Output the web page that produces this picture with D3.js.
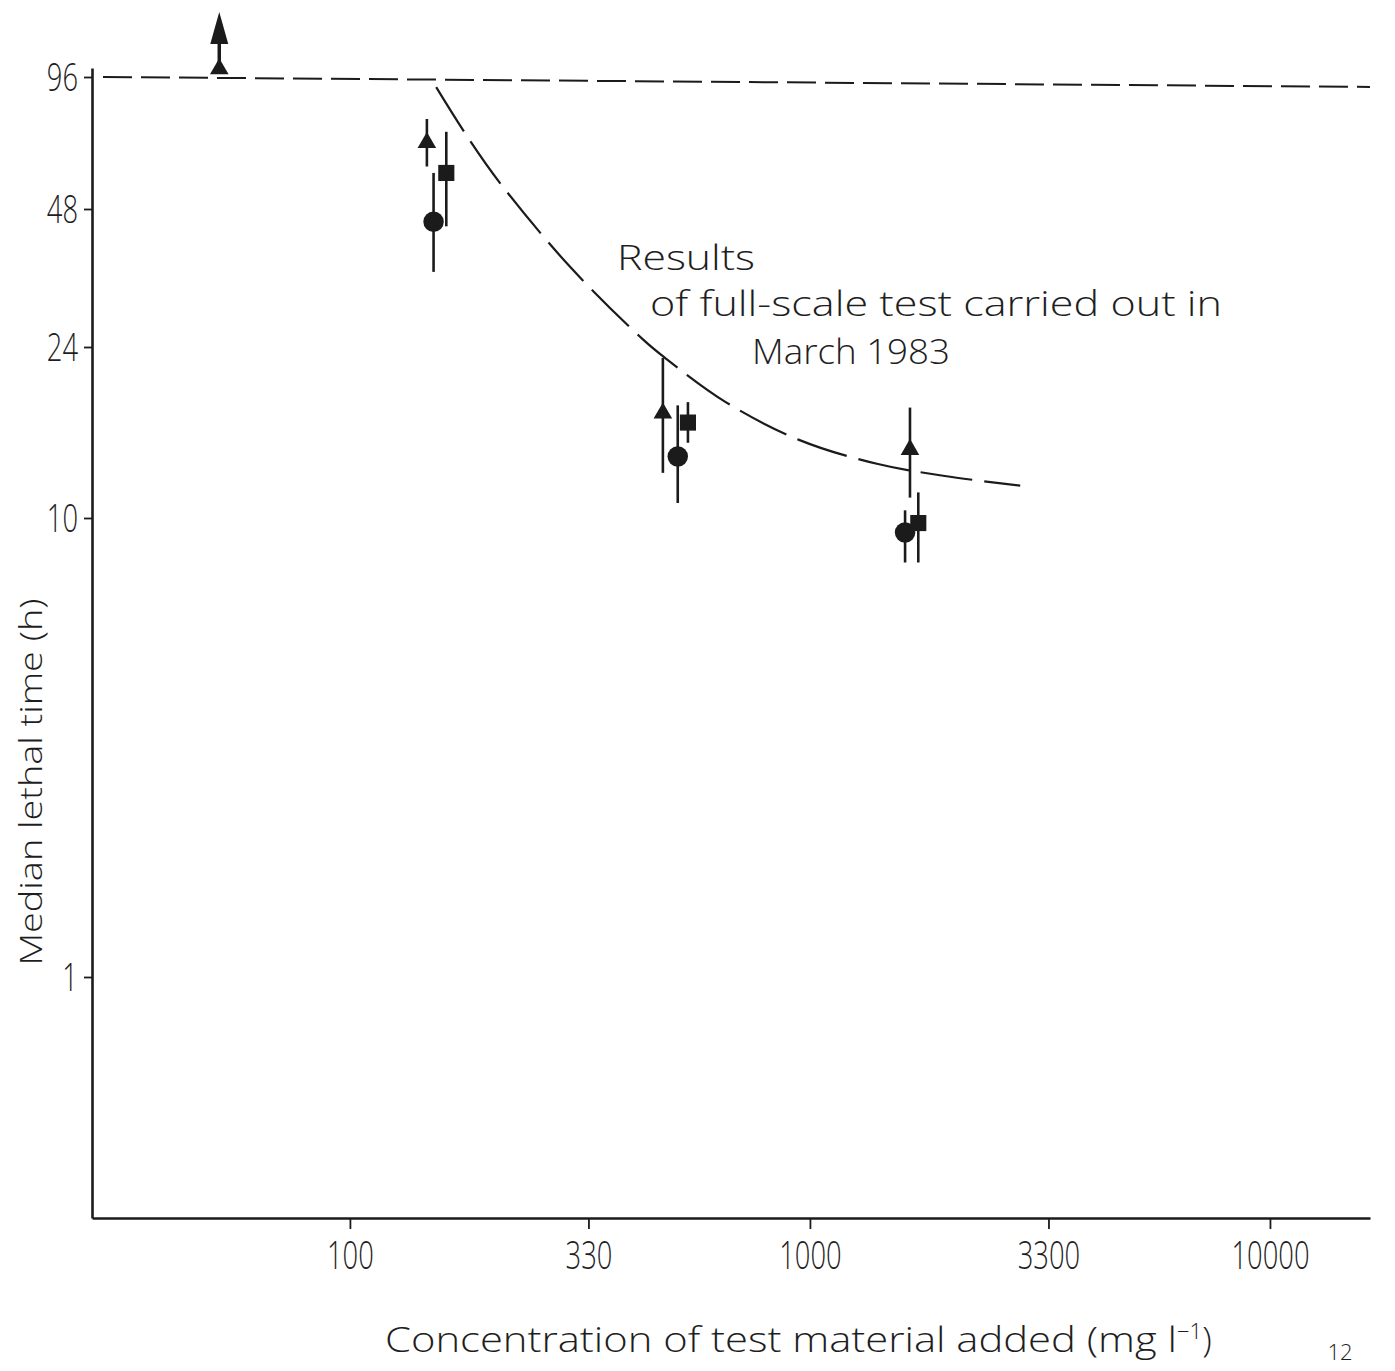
<!DOCTYPE html>
<html>
<head>
<meta charset="utf-8">
<script src="https://cdnjs.cloudflare.com/ajax/libs/d3/7.8.5/d3.min.js"></script>
<style>
body { margin: 0; background: #fff; }
svg { display: block; }
text { font-family: "Open Sans", "DejaVu Sans", sans-serif; font-weight: 300; fill: #1e1e1e; }
</style>
</head>
<body>
<svg width="1395" height="1371"></svg>
<script>
// tick labels
var xTicks = [100, 330, 1000, 3300, 10000];
var yTicks = [1, 10, 24, 48, 96];

// median lethal time (h) with range, by concentration (mg/l)
var triangleSeries = [
    {conc: 147, time: 68, low: 60, high: 77},
    {conc: 479, time: 17.1, low: 12.6, high: 22.7},
    {conc: 1650, time: 14.2, low: 11.1, high: 17.6}
];
var squareSeries = [
    {conc: 162, time: 58, low: 44, high: 72},
    {conc: 543, time: 16.3, low: 14.7, high: 18.1},
    {conc: 1720, time: 9.75, low: 8.0, high: 11.4}
];
var circleSeries = [
    {conc: 152, time: 45, low: 35, high: 58},
    {conc: 516, time: 13.7, low: 10.8, high: 17.8},
    {conc: 1610, time: 9.3, low: 8.0, high: 10.4}
];
// survived past end of test (> 96 h)
var survivors = [{conc: 52, time: 100}];

// full-scale test, March 1983
var curveConc = [154, 179, 212, 301, 434, 484, 656, 950, 1398, 1964, 2865];
var curveTime = [91, 70.8, 55, 35.9, 24.9, 22.7, 18.1, 14.9, 13.2, 12.4, 11.8];

var testEnd = 96;

var svg = d3.select("svg");
var ink = "#1b1b1b";

var x = d3.scaleLog().domain([27.5, 16500]).range([92, 1370]);
// hand drawn axis: tick spacing is not quite logarithmic
var y = d3.scaleLog()
    .domain([0.3, 1, 10, 24, 48, 96, 100.5])
    .range([1218, 977, 518, 347, 209, 77, 68]);

function squeeze(sel, k) {
    sel.each(function() {
        var w = this.getComputedTextLength();
        d3.select(this).attr("textLength", w * k).attr("lengthAdjust", "spacingAndGlyphs");
    });
}

// axes
var gx = svg.append("g")
    .attr("transform", "translate(0,1218)")
    .call(d3.axisBottom(x).tickValues(xTicks).tickFormat(d3.format("d")).tickSize(11).tickSizeOuter(0).tickPadding(13));
var gy = svg.append("g")
    .attr("transform", "translate(92,0)")
    .call(d3.axisLeft(y).tickValues(yTicks).tickFormat(d3.format("d")).tickSize(8).tickSizeOuter(0).tickPadding(6));

[gx, gy].forEach(function(g) {
    g.select(".domain").attr("stroke", ink).attr("stroke-width", 2.6);
    g.selectAll(".tick line").attr("stroke", ink).attr("stroke-width", 1.8);
    g.selectAll(".tick text")
        .style("font-family", "'Open Sans', 'DejaVu Sans', sans-serif")
        .style("font-weight", 300)
        .style("font-size", "38px")
        .attr("fill", ink)
        .call(squeeze, 0.72);
});
gy.selectAll(".tick text").attr("dy", "0.36em");

// 96 h line (end of test), drawn with a slight slant as on the original
svg.append("line")
    .attr("x1", 103).attr("x2", 1370)
    .attr("y1", y(testEnd)).attr("y2", y(testEnd))
    .attr("transform", "rotate(0.45,103," + y(testEnd) + ")")
    .attr("stroke", ink).attr("stroke-width", 2)
    .attr("stroke-dasharray", "29,9");

// full-scale result curve
var curvePts = curveConc.map(function(c, i) { return [x(c), y(curveTime[i])]; });
svg.append("path")
    .attr("d", d3.line().curve(d3.curveCatmullRom)(curvePts))
    .attr("fill", "none")
    .attr("stroke", ink).attr("stroke-width", 2.2)
    .attr("stroke-dasharray", "52,12");

// range bars
var allSeries = [
    {data: triangleSeries, shape: d3.symbolTriangle, size: 150},
    {data: squareSeries, shape: d3.symbolSquare, size: 260},
    {data: circleSeries, shape: d3.symbolCircle, size: 330}
];
allSeries.forEach(function(s) {
    svg.append("g").selectAll("line")
        .data(s.data).enter().append("line")
        .attr("x1", function(d) { return x(d.conc); })
        .attr("x2", function(d) { return x(d.conc); })
        .attr("y1", function(d) { return y(d.high); })
        .attr("y2", function(d) { return y(d.low); })
        .attr("stroke", ink).attr("stroke-width", 2.6);
});
allSeries.forEach(function(s) {
    svg.append("g").selectAll("path")
        .data(s.data).enter().append("path")
        .attr("transform", function(d) { return "translate(" + x(d.conc) + "," + y(d.time) + ")"; })
        .attr("d", d3.symbol().type(s.shape).size(s.size))
        .attr("fill", ink);
});

// > 96 h marker with arrow
var sv = svg.append("g").selectAll("g").data(survivors).enter().append("g")
    .attr("transform", function(d) { return "translate(" + x(d.conc) + "," + y(d.time) + ")"; });
sv.append("path").attr("d", d3.symbol().type(d3.symbolTriangle).size(150)).attr("fill", ink);
sv.append("line").attr("x1", 0).attr("x2", 0).attr("y1", 0).attr("y2", -30)
    .attr("stroke", ink).attr("stroke-width", 3.5);
sv.append("path").attr("d", "M0,-57L9,-25L-9,-25Z").attr("fill", ink);

// annotation
var note = [
    {t: "Results", x: 617, y: 270, w: 138},
    {t: "of full-scale test carried out in", x: 650, y: 316, w: 572},
    {t: "March 1983", x: 752, y: 364, w: 198}
];
svg.append("g").selectAll("text").data(note).enter().append("text")
    .attr("x", function(d) { return d.x; })
    .attr("y", function(d) { return d.y; })
    .attr("textLength", function(d) { return d.w; })
    .attr("lengthAdjust", "spacingAndGlyphs")
    .style("font-size", "35px")
    .text(function(d) { return d.t; });

// axis titles
svg.append("text")
    .attr("transform", "translate(42,782) rotate(-90)")
    .attr("text-anchor", "middle")
    .style("font-size", "32px")
    .attr("textLength", 367).attr("lengthAdjust", "spacingAndGlyphs")
    .text("Median lethal time (h)");

var xt = svg.append("text").attr("x", 385).attr("y", 1352).style("font-size", "35px");
xt.append("tspan").attr("textLength", 792).attr("lengthAdjust", "spacingAndGlyphs")
    .text("Concentration of  test material added (mg l");
xt.append("tspan").attr("dy", -13).style("font-size", "22px").text("\u22121");
xt.append("tspan").attr("dy", 13).text(")");

// page number
svg.append("text").attr("x", 1340).attr("y", 1360).attr("text-anchor", "middle")
    .style("font-size", "22px").text("12");
</script>
</body>
</html>
